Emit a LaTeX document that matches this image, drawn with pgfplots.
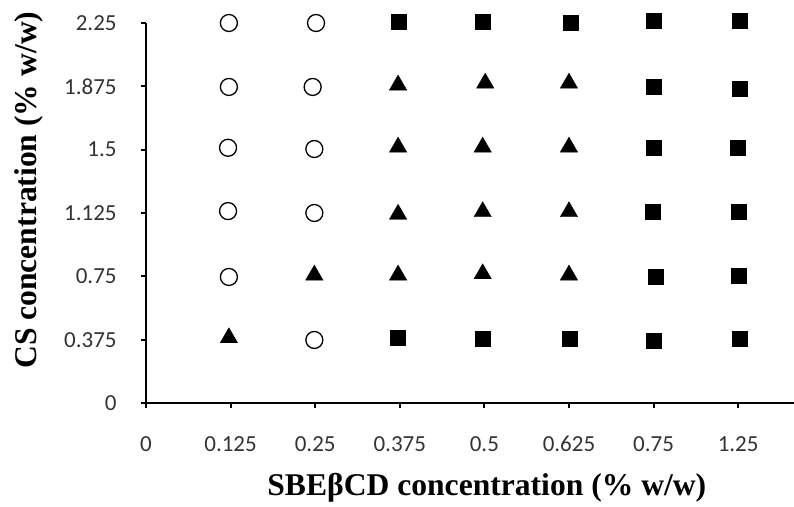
\documentclass[border=0pt]{standalone}
\usepackage{pgfplots}
\pgfplotsset{compat=1.18}
\usepackage{fontspec}
\setmainfont{Liberation Serif}
\newfontfamily\tickfont{Carlito}
\begin{document}
\begin{tikzpicture}
\begin{axis}[
  at={(0,0)}, anchor=south west,
  width=324pt, height=190pt, scale only axis,
  xmin=0, xmax=7.66, ymin=0, ymax=6,
  axis lines=left,
  axis line style={line width=1.2pt, -},
  clip=false,
  xtick={0,1,2,3,4,5,6,7},
  xticklabels={0,0.125,0.25,0.375,0.5,0.625,0.75,1.25},
  ytick={0,1,2,3,4,5,6},
  yticklabels={0,0.375,0.75,1.125,1.5,1.875,2.25},
  tick align=outside,
  major tick length=2.5pt,
  tick style={line width=1pt, black},
  tick label style={font=\tickfont\fontsize{11.5}{13}\selectfont, text=black!80},
  yticklabel style={inner sep=0pt, anchor=east, xshift=-12pt},
  xticklabel style={inner sep=0pt, anchor=center, yshift=-18pt},
  xlabel={SBEβCD concentration (\% w/w)},
  ylabel={CS concentration (\% w/w)},
  label style={font=\bfseries\fontsize{15.8}{18}\selectfont},
  xlabel style={at={(axis description cs:0.526,-0.224)}, anchor=center, inner sep=0pt},
  ylabel style={at={(axis description cs:-0.18,0.56)}, anchor=center, rotate=0, inner sep=0pt},
]
% open circles
\addplot[only marks, mark=o, mark size=4.25pt, mark options={line width=0.65pt, black}] coordinates {
  (0.98,6) (2.01,6) (0.98,4.99) (1.97,4.99) (0.97,4.03) (1.99,4.01) (0.97,3.03) (1.99,3.0) (0.98,1.99) (1.99,0.995)
};
% filled triangles
\addplot[only marks, mark=triangle*, mark size=5pt, mark options={black, line width=0.2pt}] coordinates {
  (2.98,5.02) (4.01,5.05) (5.0,5.05) (2.98,4.04) (3.98,4.04) (5.0,4.04) (2.98,2.98) (3.98,3.02) (5.0,3.02)
  (1.99,2.02) (2.98,2.02) (3.98,2.04) (5.0,2.02) (0.98,1.03)
};
% filled squares
\addplot[only marks, mark=square*, mark size=3.75pt, mark options={black, line width=0.2pt}] coordinates {
  (2.99,6.016) (3.98,6.016) (5.02,6) (6.0,6.03) (7.02,6.03) (6.0,4.99) (7.02,4.97) (6.0,4.03) (6.99,4.03)
  (5.99,3.02) (7.01,3.02) (6.02,1.99) (7.01,2.005)
  (2.98,1.03) (3.98,1.01) (5.01,1.01) (6.0,0.98) (7.02,1.01)
};
\end{axis}
\pgfresetboundingbox
\path[use as bounding box] (-73pt,-52pt) rectangle (324pt,201.5pt);
\end{tikzpicture}
\end{document}
